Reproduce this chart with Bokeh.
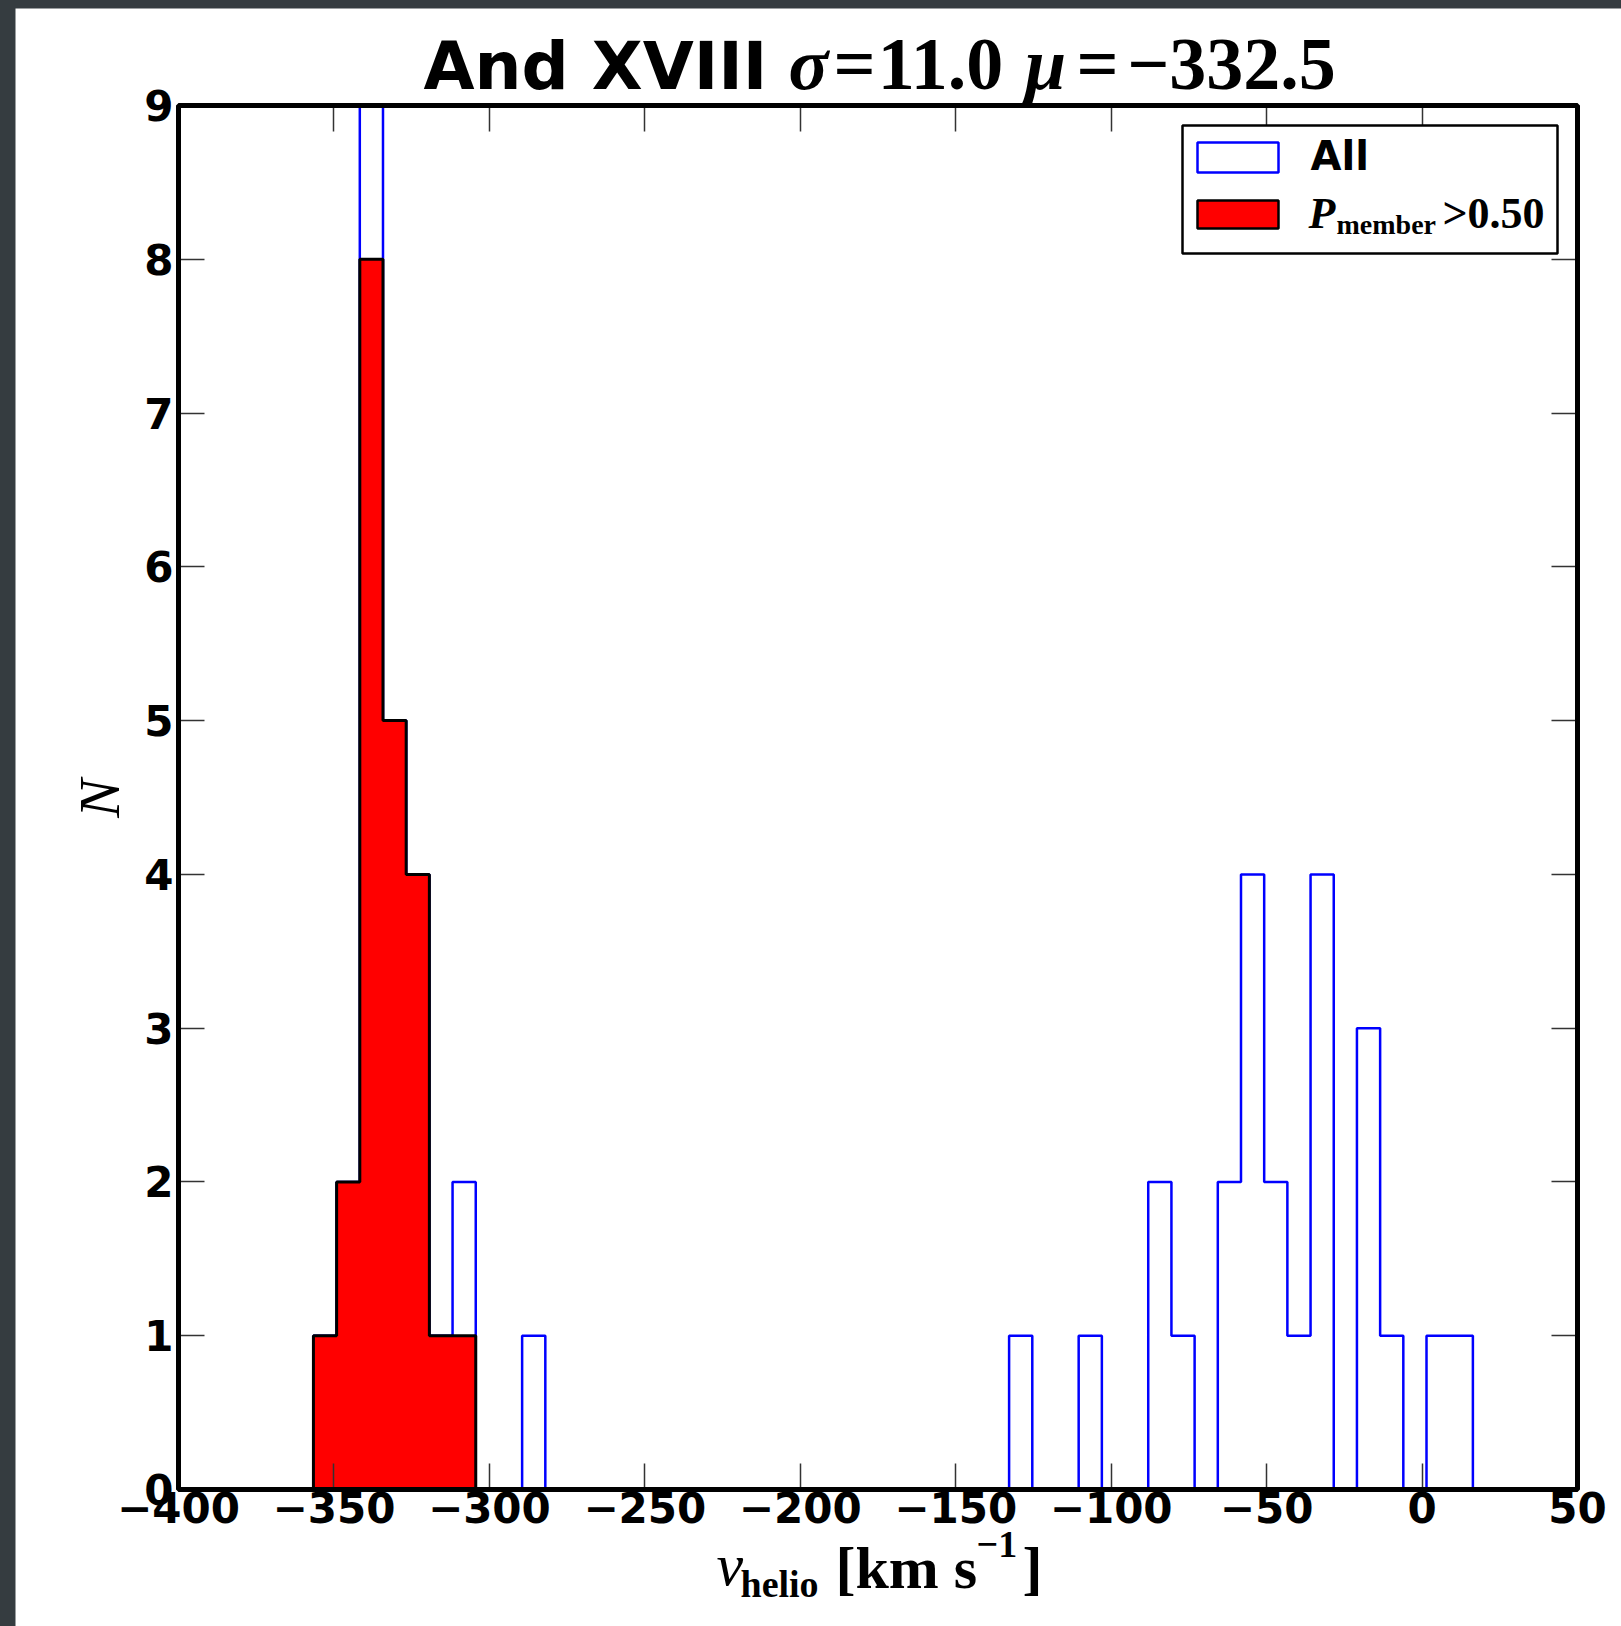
import numpy as np
from bokeh.plotting import figure
from bokeh.models import (Label, BoxAnnotation, LinearAxis, FixedTicker,
                          CustomJSTickFormatter, Range1d)
from bokeh.layouts import column
from bokeh.embed import file_html
from bokeh.resources import INLINE

# ---------------- data ----------------
bin_lo = -356.6          # left edge of first bin [km/s]
bin_hi = 16.35           # right edge of last bin [km/s]
n_bins = 50
counts_all = [1, 2, 9, 5, 4, 1, 2, 0, 0, 1,
              0, 0, 0, 0, 0, 0, 0, 0, 0, 0,
              0, 0, 0, 0, 0, 0, 0, 0, 0, 0,
              1, 0, 0, 1, 0, 0, 2, 1, 0, 2,
              4, 2, 1, 4, 0, 3, 1, 0, 1, 1]
counts_member = [1, 2, 8, 5, 4, 1, 1, 0, 0, 0,
                 0, 0, 0, 0, 0, 0, 0, 0, 0, 0,
                 0, 0, 0, 0, 0, 0, 0, 0, 0, 0,
                 0, 0, 0, 0, 0, 0, 0, 0, 0, 0,
                 0, 0, 0, 0, 0, 0, 0, 0, 0, 0]
x_ticks = [-400, -350, -300, -250, -200, -150, -100, -50, 0, 50]
y_ticks = [0, 1, 2, 3, 4, 5, 6, 7, 8, 9]
x_box = (-400, 50)
y_box = (0, 9)
title_name = "And XVIII"
sigma_text = "11.0"
mu_text = "\u2212332.5"
legend_all = "All"
legend_member_sub = "member"
legend_member_val = ">0.50"

edges = np.linspace(bin_lo, bin_hi, n_bins + 1)


def step_xy(edges, counts):
    xs, ys = [edges[0]], [0]
    for i, c in enumerate(counts):
        xs += [edges[i], edges[i + 1]]
        ys += [c, c]
    xs.append(edges[len(counts)])
    ys.append(0)
    return xs, ys


# ---------------- page geometry ----------------
OFF_X, OFF_Y = 15, 8
PAGE_W, PAGE_H = 1621, 1626
FL, FR, FT, FB = 178, 1577, 105, 1489   # axes box edges in page pixels


def dx(px):
    return x_box[0] + (px - FL) * (x_box[1] - x_box[0]) / (FR - FL)


def dy(py):
    return y_box[0] + (FB - py) * (y_box[1] - y_box[0]) / (FB - FT)


p = figure(width=PAGE_W - OFF_X, height=PAGE_H - OFF_Y,
           x_range=Range1d(dx(OFF_X), dx(PAGE_W)),
           y_range=Range1d(dy(PAGE_H), dy(OFF_Y)),
           output_backend="svg", toolbar_location=None,
           x_axis_location=None, y_axis_location=None,
           min_border=0, min_border_left=0, min_border_right=0,
           min_border_top=0, min_border_bottom=0)
p.margin = (OFF_Y, 0, 0, OFF_X)
p.background_fill_color = "white"
p.border_fill_color = "white"
p.outline_line_color = None
p.xgrid.visible = False
p.ygrid.visible = False

minus_fmt = "return tick < 0 ? '\\u2212' + Math.abs(tick) : String(tick);"


def make_axis(ticks, loc, bounds, show_labels):
    ax = LinearAxis(ticker=FixedTicker(ticks=ticks), fixed_location=loc,
                    bounds=bounds)
    ax.axis_line_color = None
    ax.major_tick_in = 26
    ax.major_tick_out = 0
    ax.major_tick_line_color = "#333333"
    ax.major_tick_line_width = 1.5
    ax.minor_tick_line_color = None
    if show_labels:
        ax.formatter = CustomJSTickFormatter(code=minus_fmt)
        ax.major_label_text_font = "DejaVu Sans"
        ax.major_label_text_font_style = "bold"
        ax.major_label_text_font_size = "42px"
        ax.major_label_text_color = "black"
    else:
        ax.major_label_text_color = None
    return ax


bx = make_axis(x_ticks, y_box[0], x_box, True)
bx.major_label_standoff = 2
p.add_layout(bx, "below")
ly = make_axis(y_ticks, x_box[0], y_box, True)
ly.major_label_standoff = 5
p.add_layout(ly, "left")
p.add_layout(make_axis(x_ticks, y_box[1], x_box, False), "above")
p.add_layout(make_axis(y_ticks, x_box[1], y_box, False), "right")

# histograms
xa, ya = step_xy(edges, counts_all)
p.line(xa, ya, line_color="#0000ff", line_width=2.5)

last = max(i for i, c in enumerate(counts_member) if c > 0) + 1
xm, ym = step_xy(edges, counts_member[:last])
p.patch(xm, ym, fill_color="#ff0000", line_color="black", line_width=3)

# axes box
p.add_layout(BoxAnnotation(left=x_box[0], right=x_box[1], bottom=y_box[0], top=y_box[1],
                           fill_color=None, fill_alpha=0, line_color="black",
                           line_alpha=1.0, line_width=5))

K = 0.41   # empirical baseline correction of Label text


def lab(text, px, py, size, font, style, align="left", angle=0.0):
    px = px - K * size * np.sin(angle)
    py = py - K * size * np.cos(angle)
    p.add_layout(Label(x=dx(px), y=dy(py), text=text,
                       text_font_size=f"{size}px", text_font=font,
                       text_font_style=style, text_align=align,
                       text_baseline="alphabetic", angle=angle,
                       text_color="black"))


SANS = "DejaVu Sans"
SERIF = "Liberation Serif"

# title
lab(title_name, 423, 93, 66, SANS, "bold")
TS = 74
TB = 94
lab("\u03c3", 808, TB, TS, SERIF, "bold italic", align="center")
lab("=", 854, TB, TS, SERIF, "bold", align="center")
lab(sigma_text, 940, TB, TS, SERIF, "bold", align="center")
lab("\u03bc", 1045, TB, TS, SERIF, "bold italic", align="center")
lab("=", 1097, TB, TS, SERIF, "bold", align="center")
lab(mu_text, 1231, TB, TS, SERIF, "bold", align="center")

# x axis label
lab("v", 716, 1589, 60, SERIF, "italic")
lab("helio", 740, 1599, 38, SERIF, "bold")
lab("[km s", 835, 1592, 60, SERIF, "bold")
lab("\u22121", 976, 1560, 38, SERIF, "bold")
lab("]", 1022, 1592, 60, SERIF, "bold")

# y axis label
lab("N", 123, 798, 58, SERIF, "italic", align="center", angle=np.pi / 2)

# legend
p.add_layout(BoxAnnotation(left=dx(1182), right=dx(1557), top=dy(125), bottom=dy(253),
                           fill_color="white", fill_alpha=1.0,
                           line_color="black", line_alpha=1.0, line_width=2.5))
p.add_layout(BoxAnnotation(left=dx(1197), right=dx(1278), top=dy(142), bottom=dy(172),
                           fill_color="white", fill_alpha=1.0,
                           line_color="#0000ff", line_alpha=1.0, line_width=2.5))
p.add_layout(BoxAnnotation(left=dx(1197), right=dx(1278), top=dy(200), bottom=dy(228),
                           fill_color="#ff0000", fill_alpha=1.0,
                           line_color="black", line_alpha=1.0, line_width=2.5))
lab(legend_all, 1310, 172, 40, SANS, "bold")
lab("P", 1308, 231, 44, SERIF, "bold italic")
lab(legend_member_sub, 1336, 235, 28, SERIF, "bold")
lab(legend_member_val, 1442, 231, 44, SERIF, "bold")

page = column(p, styles={"background-color": "#353c40"})
open("out.html", "w").write(file_html(page, INLINE))
